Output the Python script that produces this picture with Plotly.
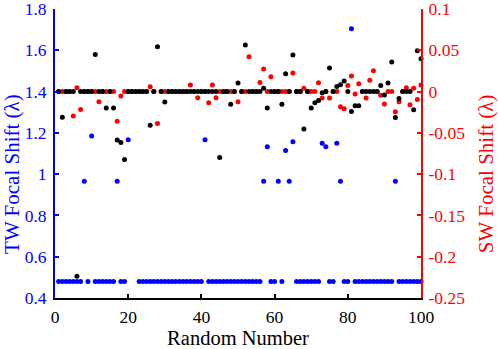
import plotly.graph_objects as go

x_vals = list(range(1, 101))

# TW focal shift (blue, left axis): baseline plus elevated points
tw_base = 0.48
tw_special = {8: 0.965, 10: 1.185, 17: 0.965, 20: 1.167, 21: None, 22: None,
              41: 1.167, 57: 0.965, 58: 1.133, 61: 0.965, 63: 1.114, 64: 0.965,
              65: 1.157, 73: 1.15, 74: 1.133, 77: 1.15, 78: 0.965, 81: 1.704,
              93: 0.965}
tw_values = [tw_special[i] if i in tw_special else tw_base for i in x_vals]

# Second TW series (black, left axis)
tw2_base = 1.4
tw2_special = {2: 1.276, 6: 0.505, 11: 1.579, 14: 1.321, 16: 1.321, 17: 1.165,
               18: 1.153, 19: 1.071, 26: 1.237, 28: 1.617, 30: 1.349, 45: 1.081,
               48: 1.338, 50: 1.441, 52: 1.626, 57: 1.416, 58: 1.321, 62: 1.338,
               63: 1.486, 65: 1.577, 68: 1.219, 70: 1.321, 71: 1.346, 72: 1.357,
               73: 1.394, 75: 1.514, 77: 1.425, 78: 1.433, 79: 1.451, 81: 1.304,
               82: 1.331, 83: 1.331, 89: 1.43, 90: 1.383, 91: 1.441, 92: 1.543,
               93: 1.275, 94: 1.367, 98: 1.312, 99: 1.598, 100: 1.559}
tw2_values = [tw2_special.get(i, tw2_base) for i in x_vals]

# SW focal shift (red, right axis)
sw_base = 0.0
sw_special = {5: -0.0297, 6: 0.0046, 7: -0.0216, 12: -0.0124, 17: -0.036, 18: -0.0055,
              26: 0.0058, 28: -0.0386, 37: 0.0079, 39: -0.0075, 42: -0.0136, 43: 0.0079,
              44: -0.0075, 50: -0.0124, 53: 0.0422, 56: 0.0111, 57: 0.0273, 59: 0.018,
              65: 0.0224, 68: 0.0039, 72: 0.0107, 73: -0.0079, 75: -0.0079, 78: -0.0184,
              79: -0.0208, 80: 0.0075, 81: 0.0188, 82: -0.003, 83: 0.0095, 85: -0.0079,
              86: 0.0136, 87: 0.0252, 89: -0.0046, 90: -0.0152, 93: -0.0245, 94: -0.0124,
              96: 0.0046, 97: -0.016, 98: 0.004, 99: -0.0095, 100: 0.0079}
sw_values = [sw_special.get(i, sw_base) for i in x_vals]

x_ticks = [0, 20, 40, 60, 80, 100]
left_ticks = [0.4, 0.6, 0.8, 1.0, 1.2, 1.4, 1.6, 1.8]
left_labels = ["0.4", "0.6", "0.8", "1", "1.2", "1.4", "1.6", "1.8"]
right_ticks = [-0.25, -0.2, -0.15, -0.1, -0.05, 0, 0.05, 0.1]
right_labels = ["-0.25", "-0.2", "-0.15", "-0.1", "-0.05", "0", "0.05", "0.1"]

FONT = "Liberation Serif"
BLUE = "#0000ff"
RED = "#ff0000"
TICK_SIZE = 17.5

fig = go.Figure()
fig.add_trace(go.Scatter(x=x_vals, y=tw_values, mode="markers", yaxis="y",
                         marker=dict(color=BLUE, size=5), cliponaxis=False,
                         showlegend=False))
fig.add_trace(go.Scatter(x=x_vals, y=sw_values, mode="markers", yaxis="y2",
                         marker=dict(color=RED, size=5), cliponaxis=False,
                         showlegend=False))
fig.add_trace(go.Scatter(x=x_vals, y=tw2_values, mode="markers", yaxis="y3",
                         marker=dict(color="black", size=5), cliponaxis=False,
                         showlegend=False))

fig.update_layout(
    width=498, height=349,
    margin=dict(l=55, r=77, t=9, b=51, autoexpand=False),
    paper_bgcolor="white", plot_bgcolor="white",
    font=dict(family=FONT, size=17, color="black"),
    xaxis=dict(range=[0, 100], tickvals=x_ticks, ticks="inside", ticklen=4,
               tickwidth=1.5, tickcolor="black", showline=True, linecolor="black",
               linewidth=2, showgrid=False, zeroline=False, automargin=False,
               ticklabelstandoff=2, ticklabeloverflow="allow",
               title=dict(text="Random Number", font=dict(family=FONT, size=20.5),
                          standoff=2),
               tickfont=dict(family=FONT, size=TICK_SIZE, color="black")),
    yaxis=dict(range=[0.4, 1.8], tickvals=left_ticks, ticktext=left_labels,
               ticks="inside", ticklen=4, tickwidth=1.5, tickcolor=BLUE,
               showline=True, linecolor=BLUE, linewidth=2, showgrid=False,
               zeroline=False, automargin=False, ticklabelstandoff=3,
               ticklabeloverflow="allow",
               tickfont=dict(family=FONT, size=TICK_SIZE, color=BLUE)),
    yaxis2=dict(range=[-0.25, 0.1], tickvals=right_ticks, ticktext=right_labels,
                overlaying="y", side="right", anchor="x",
                ticks="inside", ticklen=4, tickwidth=1.5, tickcolor=RED,
                showline=True, linecolor=RED, linewidth=2, showgrid=False,
                zeroline=False, automargin=False, ticklabelstandoff=2,
                ticklabeloverflow="allow",
                tickfont=dict(family=FONT, size=TICK_SIZE, color=RED)),
    yaxis3=dict(range=[0.4, 1.8], overlaying="y", anchor="x", visible=False,
                showgrid=False, zeroline=False),
    annotations=[
        dict(text="TW Focal Shift (λ)", textangle=-90, xref="paper", yref="paper",
             x=-0.117, y=0.43, xanchor="center", yanchor="middle", showarrow=False,
             font=dict(family=FONT, size=21, color=BLUE)),
        dict(text="SW Focal Shift (λ)", textangle=-90, xref="paper", yref="paper",
             x=1.176, y=0.43, xanchor="center", yanchor="middle", showarrow=False,
             font=dict(family=FONT, size=21, color=RED)),
    ],
)

fig.write_html("out.html", config={"displayModeBar": False},
               post_script="document.body.style.margin='0';document.body.style.padding='0';")
